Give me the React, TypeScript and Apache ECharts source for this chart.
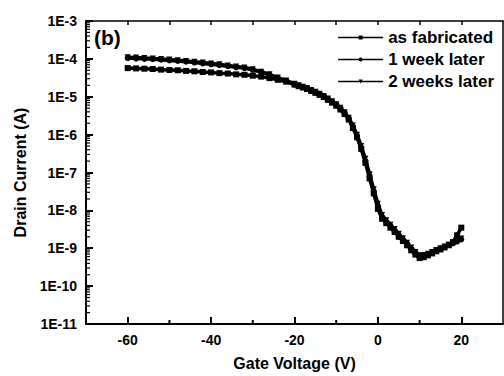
import React, { useEffect, useRef } from "react";
import * as echarts from "echarts";

const voltage = [
  -60, -58, -56, -54, -52, -50, -48, -46, -44, -42, -40, -38, -36, -34, -32, -30, -28, -26, -24, -22, -20,
  -19, -18, -17, -16, -15, -14, -13, -12, -11, -10, -9, -8, -7, -6, -5, -4, -3, -2, -1,
  0, 1, 2, 3, 4, 5, 6, 7, 8, 9, 10, 11, 12, 13, 14, 15, 16, 17, 18, 19, 20,
];

const asFabricated = [
  5.7e-5, 5.6e-5, 5.5e-5, 5.4e-5, 5.2e-5, 5.1e-5, 5.0e-5, 4.8e-5, 4.7e-5, 4.5e-5, 4.4e-5, 4.2e-5, 4.1e-5, 3.9e-5, 3.8e-5, 3.6e-5, 3.4e-5, 3.1e-5, 2.8e-5, 2.5e-5, 2.1e-5,
  1.9e-5, 1.75e-5, 1.6e-5, 1.42e-5, 1.27e-5, 1.12e-5, 9.8e-6, 8.3e-6, 7.0e-6, 5.8e-6, 4.6e-6, 3.5e-6, 2.5e-6, 1.5e-6, 8.5e-7, 4.2e-7, 1.8e-7, 7.0e-8, 2.8e-8,
  1.1e-8, 6.0e-9, 4.6e-9, 3.5e-9, 2.7e-9, 2.0e-9, 1.55e-9, 1.2e-9, 8.8e-10, 6.8e-10, 5.5e-10, 5.8e-10, 6.5e-10, 7.3e-10, 8.3e-10, 9.3e-10, 1.05e-9, 1.2e-9, 1.45e-9, 2.2e-9, 3.5e-9,
];

const oneWeek = [
  1.05e-4, 1.02e-4, 1.0e-4, 9.8e-5, 9.5e-5, 9.1e-5, 8.8e-5, 8.4e-5, 8.0e-5, 7.6e-5, 7.2e-5, 6.8e-5, 6.4e-5, 6.0e-5, 5.7e-5, 5.1e-5, 4.5e-5, 3.8e-5, 3.1e-5, 2.6e-5, 2.1e-5,
  1.95e-5, 1.8e-5, 1.65e-5, 1.45e-5, 1.3e-5, 1.15e-5, 1.0e-5, 8.5e-6, 7.2e-6, 6.0e-6, 4.8e-6, 3.7e-6, 2.6e-6, 1.6e-6, 9.0e-7, 4.5e-7, 2.0e-7, 8.0e-8, 3.2e-8,
  1.3e-8, 6.5e-9, 5.0e-9, 3.8e-9, 2.9e-9, 2.2e-9, 1.7e-9, 1.3e-9, 9.5e-10, 7.3e-10, 6.0e-10, 6.3e-10, 7.0e-10, 7.8e-10, 8.8e-10, 9.8e-10, 1.1e-9, 1.22e-9, 1.35e-9, 1.5e-9, 1.7e-9,
];

const twoWeeks = [
  1.1e-4, 1.08e-4, 1.06e-4, 1.03e-4, 1.0e-4, 9.6e-5, 9.2e-5, 8.8e-5, 8.4e-5, 8.0e-5, 7.6e-5, 7.2e-5, 6.7e-5, 6.3e-5, 5.9e-5, 5.3e-5, 4.6e-5, 3.9e-5, 3.2e-5, 2.7e-5, 2.2e-5,
  2.0e-5, 1.85e-5, 1.7e-5, 1.5e-5, 1.35e-5, 1.2e-5, 1.05e-5, 9.0e-6, 7.6e-6, 6.3e-6, 5.1e-6, 3.9e-6, 2.8e-6, 1.75e-6, 1.0e-6, 5.0e-7, 2.3e-7, 9.0e-8, 3.6e-8,
  1.5e-8, 7.5e-9, 5.5e-9, 4.2e-9, 3.2e-9, 2.4e-9, 1.85e-9, 1.4e-9, 1.05e-9, 8.0e-10, 6.5e-10, 6.6e-10, 7.2e-10, 8.0e-10, 9.0e-10, 1.0e-9, 1.12e-9, 1.25e-9, 1.4e-9, 1.55e-9, 1.8e-9,
];

const seriesNames = ["as fabricated", "1 week later", "2 weeks later"];
const xMajorTicks = [-60, -40, -20, 0, 20];
const xMinorTicks = [-50, -30, -10, 10];
const xTopTicks = [-60, -50, -40, -30, -20, -10, 0, 10, 20];
const yMinorTicks: number[] = [];
for (let e = -11; e < -3; e++) {
  for (let m = 2; m <= 9; m++) yMinorTicks.push(m * Math.pow(10, e));
}

const FONT = "'Liberation Sans', Arial, Helvetica, sans-serif";

export default function App() {
  const ref = useRef<HTMLDivElement>(null);
  useEffect(() => {
    if (!ref.current) return;
    const chart = echarts.init(ref.current, undefined, { renderer: "svg" });
    const mk = (vals: number[]) => voltage.map((v, i) => [v, vals[i]]);
    const common = {
      type: "line",
      xAxisIndex: 0,
      yAxisIndex: 0,
      symbolSize: 6,
      showSymbol: true,
      itemStyle: { color: "#000" },
      lineStyle: { color: "#000", width: 3.5 },
      z: 3,
    };
    const label = {
      type: "text",
      left: 94,
      top: 27,
      style: { text: "(b)", fontFamily: FONT, fontWeight: "bold", fontSize: 21, fill: "#000" },
    };
    chart.setOption({
      animation: false,
      backgroundColor: "#fff",
      textStyle: { fontFamily: FONT },
      grid: { left: 86, right: 1, top: 21, bottom: 49, containLabel: false },
      legend: {
        orient: "vertical",
        right: 5,
        top: 24,
        itemWidth: 45,
        itemHeight: 5,
        itemGap: 5,
        data: seriesNames,
        lineStyle: { width: 1.5, color: "#000" },
        itemStyle: { color: "#000" },
        textStyle: { fontFamily: FONT, fontWeight: "bold", fontSize: 17, color: "#000", lineHeight: 17 },
      },
      xAxis: [
        {
          type: "value",
          position: "bottom",
          min: -70,
          max: 30,
          name: "Gate Voltage (V)",
          nameLocation: "middle",
          nameGap: 31,
          nameTextStyle: { fontFamily: FONT, fontWeight: "bold", fontSize: 16, color: "#000" },
          axisLine: { show: true, onZero: false, lineStyle: { color: "#000", width: 2 } },
          axisTick: { show: true, inside: true, length: 7, customValues: xMajorTicks, lineStyle: { color: "#000", width: 2 } },
          axisLabel: { customValues: xMajorTicks, fontFamily: FONT, fontWeight: "bold", fontSize: 14, color: "#000", margin: 9 },
          splitLine: { show: false },
        },
        {
          type: "value",
          position: "top",
          min: -70,
          max: 30,
          axisLine: { show: true, onZero: false, lineStyle: { color: "#000", width: 1.5 } },
          axisTick: { show: true, inside: true, length: 4, customValues: xTopTicks, lineStyle: { color: "#000", width: 1.5 } },
          axisLabel: { show: false },
          splitLine: { show: false },
        },
      ],
      yAxis: [
        {
          type: "log",
          logBase: 10,
          position: "left",
          min: 1e-11,
          max: 1e-3,
          interval: 1,
          name: "Drain Current (A)",
          nameLocation: "middle",
          nameGap: 58,
          nameTextStyle: { fontFamily: FONT, fontWeight: "bold", fontSize: 16, color: "#000" },
          axisLine: { show: true, onZero: false, lineStyle: { color: "#000", width: 2 } },
          axisTick: { show: true, inside: true, length: 7, lineStyle: { color: "#000", width: 2 } },
          axisLabel: {
            fontFamily: FONT,
            fontWeight: "bold",
            fontSize: 14,
            color: "#000",
            margin: 9,
            formatter: (v: number) => "1E" + Math.round(Math.log10(v)),
          },
          splitLine: { show: false },
        },
        {
          type: "log",
          logBase: 10,
          position: "right",
          min: 1e-11,
          max: 1e-3,
          axisLine: { show: true, onZero: false, lineStyle: { color: "#000", width: 1.5 } },
          axisTick: { show: false },
          axisLabel: { show: false },
          splitLine: { show: false },
        },
      ],
      graphic: [label],
      series: [
        { ...common, name: seriesNames[0], symbol: "rect", data: mk(asFabricated) },
        { ...common, name: seriesNames[1], symbol: "circle", data: mk(oneWeek) },
        { ...common, name: seriesNames[2], symbol: "triangle", symbolRotate: 180, data: mk(twoWeeks) },
      ],
    });

    // minor ticks positioned through the chart's own scales
    const toPx = (x: number, y: number) =>
      chart.convertToPixel({ xAxisIndex: 0, yAxisIndex: 0 }, [x, y]) as number[];
    const ticks: any[] = [];
    xMinorTicks.forEach((v) => {
      const p = toPx(v, 1e-11);
      ticks.push({
        type: "line",
        silent: true,
        shape: { x1: p[0], y1: p[1], x2: p[0], y2: p[1] - 4 },
        style: { stroke: "#000", lineWidth: 2 },
      });
    });
    yMinorTicks.forEach((v) => {
      const p = toPx(-70, v);
      ticks.push({
        type: "line",
        silent: true,
        shape: { x1: p[0], y1: p[1], x2: p[0] + 4, y2: p[1] },
        style: { stroke: "#000", lineWidth: 1.2 },
      });
    });
    chart.setOption({ graphic: [label, ...ticks] });
    return () => chart.dispose();
  }, []);
  return <div ref={ref} style={{ position: "fixed", left: 0, top: 0, width: 504, height: 376 }} />;
}
